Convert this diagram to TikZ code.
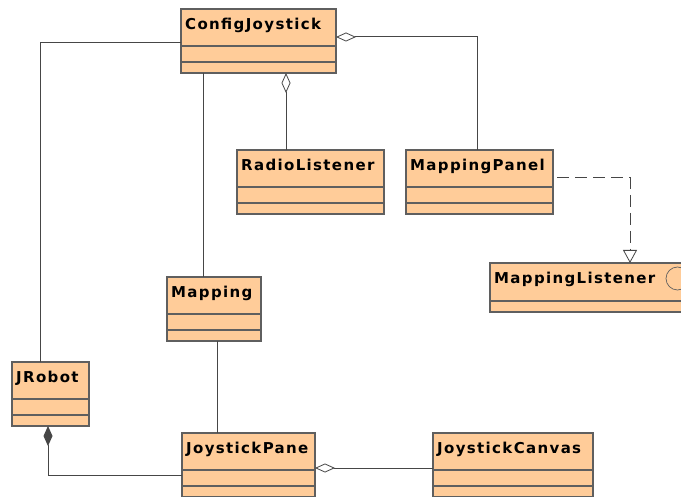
\documentclass[tikz,border=0pt]{standalone}
\usepackage{fontspec}
\usetikzlibrary{arrows.meta,calc}
\newfontfamily\umlfont[LetterSpace=9]{DejaVu Sans}
\definecolor{classfill}{RGB}{255,204,153}
\definecolor{classedge}{RGB}{95,95,95}
\definecolor{wire}{RGB}{70,70,70}

\tikzset{
  classbox/.style={draw=classedge,fill=classfill,line width=1.1pt,anchor=north west,
    minimum height=64pt,inner sep=0pt,outer sep=0pt},
  classname/.style={anchor=base west,inner sep=0pt,font=\umlfont\bfseries\fontsize{15}{18}\selectfont},
  divider/.style={draw=classedge,line width=1.1pt},
  link/.style={draw=wire,line width=1pt},
  aggr/.tip={Diamond[open,fill=white,length=20pt,width=9pt,line width=0.8pt]},
  compo/.tip={Diamond[length=20pt,width=9pt]},
  realize/.tip={Triangle[open,fill=white,length=13pt,width=14pt,line width=0.8pt]}
}

% class box: name, x, y, width, label
\newcommand{\umlclass}[5]{%
  \node[classbox,minimum width=#4pt] (#1) at (#2,#3) {};
  \node[classname] (#1-name) at ([xshift=4pt,yshift=-20.5pt]#1.north west) {#5};
  \draw[divider] ([yshift=-37pt]#1.north west) -- ([yshift=-37pt]#1.north east);
  \draw[divider] ([yshift=-53pt]#1.north west) -- ([yshift=-53pt]#1.north east);
}

\begin{document}
\begin{tikzpicture}[x=1pt,y=-1pt]
  \clip (0,0) rectangle (681,497);
  \fill[white] (0,0) rectangle (681,497);

  \umlclass{config}{181}{9}{155}{ConfigJoystick}
  \umlclass{radio}{237}{150}{147}{RadioListener}
  \umlclass{mpanel}{406}{150}{147}{MappingPanel}
  \umlclass{mapping}{167}{277}{94}{Mapping}
  \umlclass{robot}{12}{362}{77}{JRobot}
  \umlclass{pane}{182}{433}{133}{JoystickPane}
  \umlclass{canvas}{433}{433}{160}{JoystickCanvas}

  % interface
  \node[classbox,minimum width=215pt,minimum height=49pt] (listener) at (490,263) {};
  \node[classname] (listener-name) at ([xshift=4pt,yshift=-20.5pt]listener.north west) {MappingListener};
  \draw[divider] ([yshift=-38pt]listener.north west) -- ([yshift=-38pt]listener.north east);
  \draw[draw=classedge,line width=0.7pt] ([xshift=187.5pt,yshift=-15.5pt]listener.north west) circle (11.5pt);

  % associations
  \coordinate (c1) at (40,43);
  \draw[link] (config.west |- c1) -- (c1) -- (c1 |- robot.north);
  \draw[link] ([xshift=22pt]config.south west) -- ([xshift=22pt]config.south west |- mapping.north);
  \draw[link] ([xshift=50pt]mapping.south west) -- ([xshift=50pt]mapping.south west |- pane.north);

  % aggregations
  \draw[link,aggr-] ([xshift=105pt]config.south west) -- ([xshift=105pt]config.south west |- radio.north);
  \coordinate (c2) at (477,37);
  \draw[link,aggr-] (config.east |- c2) -- (c2) -- (c2 |- mpanel.north);
  \draw[link,aggr-] ([yshift=-35pt]pane.north east) -- ([yshift=-35pt]pane.north east -| canvas.west);

  % composition
  \coordinate (c3) at (48,475);
  \draw[link,compo-] (c3 |- robot.south) -- (c3) -- (c3 -| pane.west);

  % realization
  \coordinate (c4) at (630,178);
  \draw[link,dash pattern=on 12pt off 6pt,-realize] ([xshift=4pt]mpanel.east |- c4) -- (c4) -- (c4 |- listener.north);
\end{tikzpicture}
\end{document}
